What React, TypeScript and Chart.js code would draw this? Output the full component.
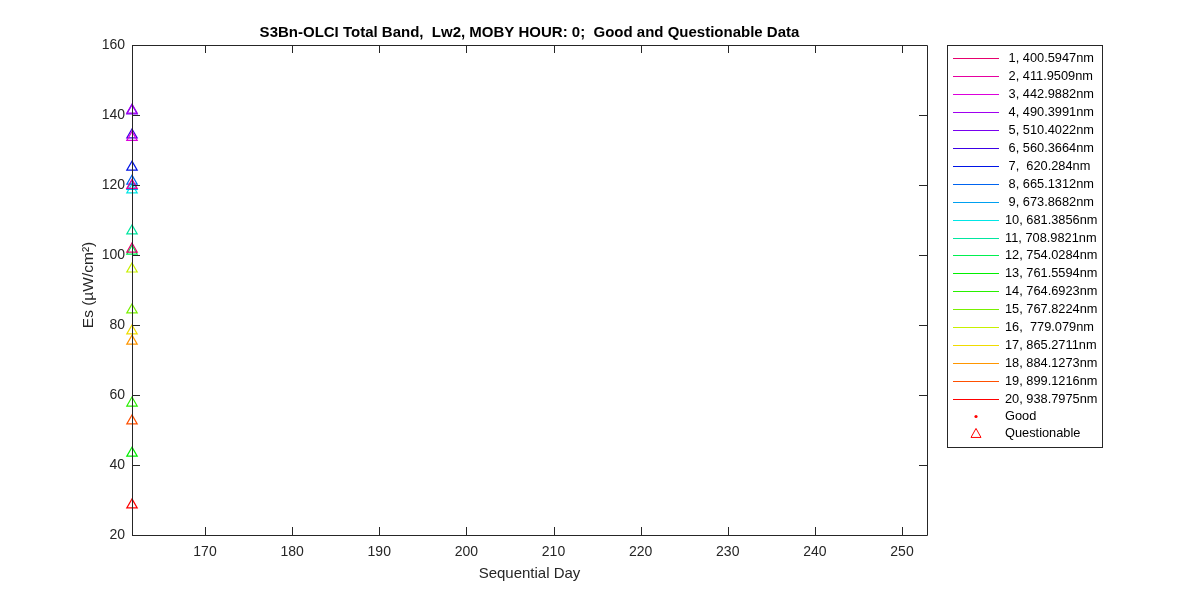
import React, { useEffect, useRef } from 'react';
import { Chart, registerables } from 'chart.js';

Chart.register(...registerables);

const chartTitle = 'S3Bn-OLCI Total Band,  Lw2, MOBY HOUR: 0;  Good and Questionable Data';
const xAxisTitle = 'Sequential Day';
const yAxisTitle = 'Es (\u00B5W/cm\u00B2)';

const bandLabels = [
  ' 1, 400.5947nm', ' 2, 411.9509nm', ' 3, 442.9882nm', ' 4, 490.3991nm', ' 5, 510.4022nm',
  ' 6, 560.3664nm', ' 7,  620.284nm', ' 8, 665.1312nm', ' 9, 673.8682nm', '10, 681.3856nm',
  '11, 708.9821nm', '12, 754.0284nm', '13, 761.5594nm', '14, 764.6923nm', '15, 767.8224nm',
  '16,  779.079nm', '17, 865.2711nm', '18, 884.1273nm', '19, 899.1216nm', '20, 938.7975nm',
];

const bandColors = [
  '#e6006e', '#e600a0', '#dc00dc', '#a000f0', '#7800f0',
  '#3c00e6', '#0014e6', '#0064f0', '#00a0f0', '#00e6e6',
  '#00e6a0', '#00f050', '#00f000', '#28f000', '#78f000',
  '#c8f000', '#f0dc00', '#ff9600', '#ff5000', '#ff0000',
];

const sequentialDay = [161.62];

const esValues = [
  101.7, 119.9, 133.6, 141.4, 141.2,
  134.3, 125.1, 121.1, 119.6, 118.6,
  106.9, 101.1, 43.4, 57.7, 84.3,
  96.0, 78.3, 75.4, 52.6, 28.6,
];

const xTicks = [170, 180, 190, 200, 210, 220, 230, 240, 250];
const yTicks = [20, 40, 60, 80, 100, 120, 140, 160];
const xRange = [161.62, 252.87];
const yRange = [20, 160];

const legendExtra = ['Good', 'Questionable'];
const FONT = '"Liberation Sans", Arial, sans-serif';

const decorPlugin = {
  id: 'decor',
  afterDraw(chart: any) {
    const ctx = chart.ctx as CanvasRenderingContext2D;
    const { left, right, top, bottom } = chart.chartArea;
    const xs = chart.scales.x;
    const ys = chart.scales.y;
    ctx.save();
    // box
    ctx.strokeStyle = '#262626';
    ctx.lineWidth = 1;
    ctx.beginPath();
    ctx.rect(Math.round(left) + 0.5, Math.round(top) + 0.5, Math.round(right - left), Math.round(bottom - top));
    ctx.stroke();
    // inner ticks
    const tl = 8;
    ctx.beginPath();
    xTicks.forEach((v) => {
      const px = Math.round(xs.getPixelForValue(v)) + 0.5;
      ctx.moveTo(px, bottom); ctx.lineTo(px, bottom - tl);
      ctx.moveTo(px, top); ctx.lineTo(px, top + tl);
    });
    yTicks.forEach((v) => {
      const py = Math.round(ys.getPixelForValue(v)) + 0.5;
      ctx.moveTo(left, py); ctx.lineTo(left + tl, py);
      ctx.moveTo(right, py); ctx.lineTo(right - tl, py);
    });
    ctx.stroke();

    // title
    ctx.fillStyle = '#000';
    ctx.font = `bold 15px ${FONT}`;
    ctx.textAlign = 'center';
    ctx.textBaseline = 'middle';
    ctx.fillText(chartTitle, (left + right) / 2, 33);

    // axis titles
    ctx.fillStyle = '#262626';
    ctx.font = `15px ${FONT}`;
    ctx.fillText(xAxisTitle, (left + right) / 2, 574);
    ctx.save();
    ctx.translate(89, 285);
    ctx.rotate(-Math.PI / 2);
    ctx.font = `15.5px ${FONT}`;
    ctx.fillText(yAxisTitle, 0, 0);
    ctx.restore();

    // legend
    const lx = 947, ly = 45, lw = 155, lh = 402;
    ctx.fillStyle = '#fff';
    ctx.fillRect(lx, ly, lw, lh);
    ctx.strokeStyle = '#262626';
    ctx.strokeRect(lx + 0.5, ly + 0.5, lw, lh);
    ctx.font = `12.8px ${FONT}`;
    ctx.textAlign = 'left';
    ctx.textBaseline = 'middle';
    const rowH = 17.95;
    const y0 = 58;
    bandLabels.forEach((lab, i) => {
      const y = Math.round(y0 + i * rowH) + 0.5;
      ctx.strokeStyle = bandColors[i];
      ctx.beginPath();
      ctx.moveTo(953, y); ctx.lineTo(999, y);
      ctx.stroke();
      ctx.fillStyle = '#000';
      ctx.fillText(lab, 1005, y);
    });
    const gy = y0 + 20 * rowH - 0.5;
    ctx.fillStyle = '#ff0000';
    ctx.beginPath();
    ctx.arc(976, gy, 1.6, 0, Math.PI * 2);
    ctx.fill();
    ctx.fillStyle = '#000';
    ctx.fillText(legendExtra[0], 1005, gy);
    const qy = y0 + 21 * rowH - 1;
    ctx.strokeStyle = '#ff0000';
    ctx.beginPath();
    ctx.moveTo(976, qy - 5.5);
    ctx.lineTo(981, qy + 3.5);
    ctx.lineTo(971, qy + 3.5);
    ctx.closePath();
    ctx.stroke();
    ctx.fillStyle = '#000';
    ctx.fillText(legendExtra[1], 1005, qy);
    ctx.restore();
  },
};

export default function App() {
  const ref = useRef<HTMLCanvasElement>(null);
  useEffect(() => {
    if (!ref.current) return;
    const datasets = esValues.map((v, i) => ({
      label: bandLabels[i],
      data: sequentialDay.map((d) => ({ x: d, y: v })),
      showLine: false,
      pointStyle: 'triangle' as const,
      pointRadius: 6,
      borderColor: bandColors[i],
      backgroundColor: 'rgba(0,0,0,0)',
      borderWidth: 1.2,
    }));
    const chart = new Chart(ref.current, {
      type: 'scatter',
      data: { datasets },
      plugins: [decorPlugin],
      options: {
        responsive: false,
        animation: false,
        clip: false as any,
        layout: { padding: { left: 0, right: 273, top: 45, bottom: 0 } },
        plugins: { legend: { display: false }, title: { display: false }, tooltip: { enabled: false } },
        scales: {
          x: {
            type: 'linear',
            min: xRange[0],
            max: xRange[1],
            afterBuildTicks: (s: any) => { s.ticks = xTicks.map((v) => ({ value: v })); },
            afterFit: (s: any) => { s.height = 65; },
            grid: { display: false, drawTicks: false, tickLength: 0 },
            border: { display: false },
            ticks: { color: '#262626', padding: 9, font: { family: FONT, size: 14 }, maxRotation: 0, autoSkip: false },
          },
          y: {
            type: 'linear',
            min: yRange[0],
            max: yRange[1],
            afterBuildTicks: (s: any) => { s.ticks = yTicks.map((v) => ({ value: v })); },
            afterFit: (s: any) => { s.width = 132; },
            grid: { display: false, drawTicks: false, tickLength: 0 },
            border: { display: false },
            ticks: { color: '#262626', padding: 7, font: { family: FONT, size: 14 }, autoSkip: false },
          },
        },
      },
    });
    return () => chart.destroy();
  }, []);
  return (
    <div style={{ position: 'fixed', left: 0, top: 0, width: 1200, height: 600, background: '#fff' }}>
      <canvas ref={ref} width={1200} height={600} style={{ display: 'block' }} />
    </div>
  );
}
